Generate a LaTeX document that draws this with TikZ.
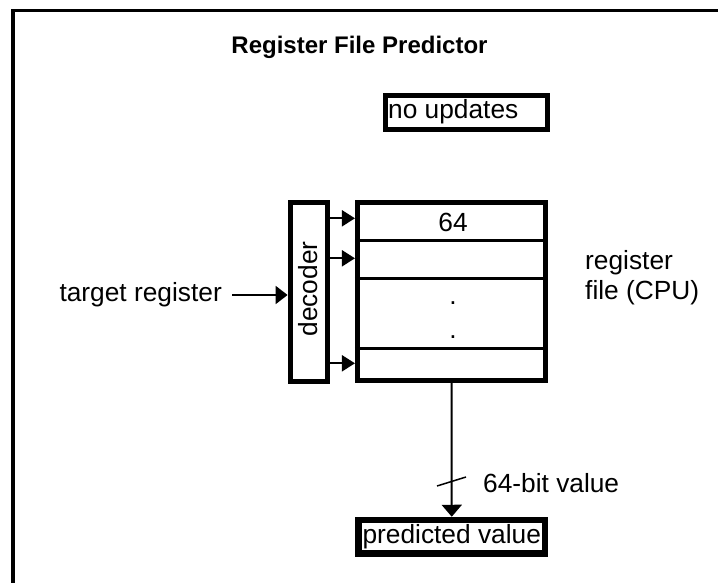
\documentclass[tikz,border=0pt]{standalone}
\usepackage{fontspec}
\setmainfont{Liberation Sans}
\usetikzlibrary{arrows.meta}

\tikzset{
  txt/.style={inner sep=0pt, font=\fontsize{26.3}{30}\selectfont},
  titletxt/.style={inner sep=0pt, font=\fontsize{24}{28}\selectfont\bfseries},
  heavybox/.style={draw, line width=5pt, inner sep=0pt},
  rowline/.style={line width=3pt},
  ptr/.style={line width=2pt, -{Triangle[length=13pt,width=16pt]}},
  feed/.style={line width=2pt, -{Triangle[length=12pt,width=18pt]}},
  busline/.style={line width=2pt, -{Triangle[length=12pt,width=20pt]}},
  frame/.style={line width=3.5pt, line join=miter}
}

\begin{document}
\begin{tikzpicture}[x=1pt, y=-1pt]
  \useasboundingbox (0,0) rectangle (718,583);

  % outer frame (open to the right and bottom)
  \draw[frame] (13,583) -- (13,10.5) -- (718,10.5);

  % title
  \node[titletxt, anchor=base] (title) at (359.5,54) {Register File Predictor};

  % "no updates" box
  \node[heavybox, minimum width=162pt, minimum height=34pt] (upd) at (466.5,112.5) {};
  \node[txt, anchor=base west] (updtxt) at (388,119) {no updates};

  % register file
  \node[heavybox, minimum width=188.3pt, minimum height=178pt] (regfile) at (451.6,291.5) {};
  \draw[rowline] (regfile.west |- 0,240)   -- (regfile.east |- 0,240);
  \draw[rowline] (regfile.west |- 0,278.5) -- (regfile.east |- 0,278.5);
  \draw[rowline] (regfile.west |- 0,348.5) -- (regfile.east |- 0,348.5);
  \node[txt, anchor=base] (width64) at (453,232) {64};
  \node[txt, anchor=base] (dotA) at (453,304) {.};
  \node[txt, anchor=base] (dotB) at (453,338) {.};
  \node[txt, anchor=west, align=left] (rflabel) at (585,278) {register\\file (CPU)};

  % decoder
  \node[heavybox, minimum width=37pt, minimum height=179pt] (dec) at (308.6,291.6) {};
  \node[txt, rotate=90, anchor=base] (dectxt) at (317,289) {decoder};

  % decoder outputs into the rows
  \draw[ptr] (dec.east |- 0,218.3) -- (regfile.west |- 0,218.3);
  \draw[ptr] (dec.east |- 0,258.3) -- (regfile.west |- 0,258.3);
  \draw[ptr] (dec.east |- 0,363.3) -- (regfile.west |- 0,363.3);

  % target register input
  \node[txt, anchor=east] (tgt) at (222,295) {target register};
  \draw[feed] ([xshift=10pt]tgt.east) -- (dec.west |- tgt.east);

  % output value
  \node[draw, line width=6.5pt, inner sep=0pt, minimum width=186.5pt, minimum height=33.5pt,
        font=\fontsize{26.3}{30}\selectfont] (pv) at (451.75,536.75) {predicted value};
  \draw[busline] (regfile.south) -- (pv.north);
  \coordinate (tick) at (451.5,481.5);
  \draw[line width=1.5pt] ([shift={(-14.5,4.5)}]tick) -- ([shift={(14.5,-4.5)}]tick);
  \node[txt, anchor=base west] (buswidth) at (483,492) {64-bit value};
\end{tikzpicture}
\end{document}
